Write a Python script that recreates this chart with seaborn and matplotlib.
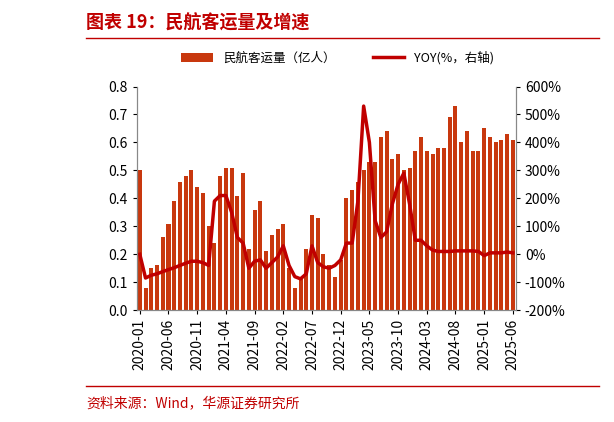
import numpy as np
import pandas as pd
import matplotlib
matplotlib.use("Agg")
import matplotlib.pyplot as plt
import seaborn as sns

plt.rcParams["font.family"] = ["Noto Sans CJK SC", "DejaVu Sans"]

months = pd.period_range("2020-01", "2025-06", freq="M").strftime("%Y-%m").tolist()
volume = [0.50, 0.08, 0.15, 0.16, 0.26, 0.31, 0.39, 0.46, 0.48, 0.50, 0.44, 0.42,
          0.30, 0.24, 0.48, 0.51, 0.51, 0.41, 0.49, 0.22, 0.36, 0.39, 0.21, 0.27,
          0.29, 0.31, 0.15, 0.08, 0.12, 0.22, 0.34, 0.33, 0.20, 0.16, 0.12, 0.18,
          0.40, 0.43, 0.46, 0.50, 0.53, 0.53, 0.62, 0.64, 0.54, 0.56, 0.50, 0.51,
          0.57, 0.62, 0.57, 0.56, 0.58, 0.58, 0.69, 0.73, 0.60, 0.64, 0.57, 0.57,
          0.65, 0.62, 0.60, 0.61, 0.63, 0.61]
yoy = [0, -85, -75, -70, -62, -55, -48, -40, -32, -25, -25, -30,
       -40, 190, 210, 210, 150, 60, 40, -50, -25, -20, -50, -30,
       -10, 30, -40, -80, -88, -70, 30, -30, -45, -50, -40, -20,
       40, 40, 190, 530, 400, 120, 60, 80, 180, 250, 290, 180,
       50, 50, 30, 15, 10, 10, 10, 12, 12, 12, 12, 10,
       -5, 5, 5, 5, 8, 5]

bar_color = "#C8380E"
line_color = "#C00000"

df = pd.DataFrame({"month": months, "volume": volume, "yoy": yoy})
x = np.arange(len(months))

fig = plt.figure(figsize=(6.14, 4.22), dpi=100)
ax = fig.add_axes([0.223, 0.265, 0.617, 0.53])
sns.barplot(data=df, x="month", y="volume", color=bar_color, width=0.7,
            saturation=1, ax=ax, label="民航客运量（亿人）")
ax2 = ax.twinx()
sns.lineplot(x=x, y=df["yoy"], color=line_color, lw=2.5, ax=ax2, label="YOY(%，右轴)", legend=False)

ax.set_ylim(0, 0.8)
ax.set_yticks(np.arange(0, 0.81, 0.1))
ax.set_yticklabels([f"{v:.1f}" for v in np.arange(0, 0.81, 0.1)], fontsize=10)
ax2.set_ylim(-200, 600)
ax2.set_yticks(range(-200, 601, 100))
ax2.set_yticklabels([f"{v}%" for v in range(-200, 601, 100)], fontsize=10)
ax.set_xlim(-0.5, len(months) - 0.5)
ticks = list(range(0, len(months), 5))
ax.set_xticks(ticks)
ax.set_xticklabels([months[i] for i in ticks], rotation=90, fontsize=10)
ax.set_xlabel("")
ax.set_ylabel("")
ax2.set_ylabel("")
for a in (ax, ax2):
    a.spines["top"].set_visible(False)
    for s in ("left", "right", "bottom"):
        a.spines[s].set_color("#888888")
    a.tick_params(colors="black", length=3)
if ax.get_legend():
    ax.get_legend().remove()

h1, l1 = ax.get_legend_handles_labels()
h2, l2 = ax2.get_legend_handles_labels()
fig.legend(h1 + h2, l1 + l2, loc="upper center", bbox_to_anchor=(0.55, 0.905),
           ncol=2, frameon=False, fontsize=9, handlelength=2.5, columnspacing=3)

fig.text(0.14, 0.945, "图表 19：民航客运量及增速", color="#C00000", fontsize=13,
         fontweight="bold", va="center")
fig.add_artist(plt.Line2D([0.14, 0.975], [0.91, 0.91], color="#C00000", lw=1))
fig.add_artist(plt.Line2D([0.14, 0.975], [0.085, 0.085], color="#C00000", lw=1))
fig.text(0.14, 0.045, "资料来源：Wind，华源证券研究所", color="#C00000", fontsize=10, va="center")

fig.savefig("out.png", dpi=100)
